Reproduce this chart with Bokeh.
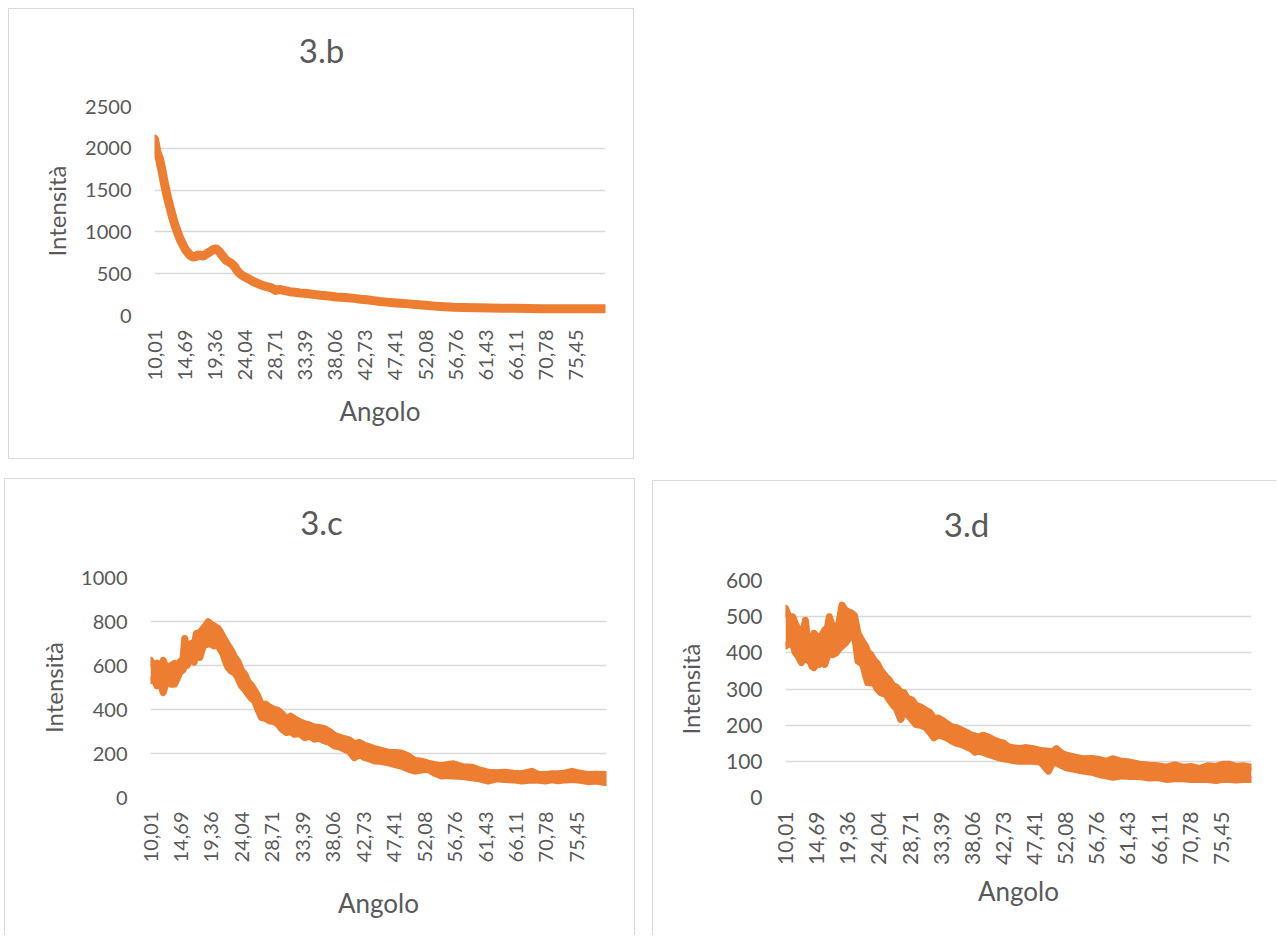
from bokeh.plotting import figure
from bokeh.layouts import row, column
from bokeh.models import Spacer, Range1d, FixedTicker, CustomJSTickFormatter, Label
from bokeh.embed import file_html
from bokeh.resources import INLINE

ORANGE = "#ED7D31"
GRID = "#D9D9D9"
TEXT = "#595959"
FONT = "Lato"

# x tick labels (category labels shown on the axis)
x_ticks = [10.01, 14.69, 19.36, 24.04, 28.71, 33.39, 38.06, 42.73,
           47.41, 52.08, 56.76, 61.43, 66.11, 70.78, 75.45]

# ---- 3.b : intensity ----
b_x = [10.01, 10.4, 10.8, 11.2, 11.6, 12.0, 12.4, 12.8, 13.2, 13.6, 14.0, 14.4,
       14.8, 15.2, 15.6, 16.0, 16.4, 16.8, 17.2, 17.6, 18.0, 18.4, 18.8, 19.2,
       19.6, 20.0, 20.4, 20.8, 21.2, 21.6, 22.0, 22.4, 22.8, 23.2, 23.6, 24.2,
       25.0, 25.8, 26.6, 27.4, 28.2, 28.8, 29.4, 30.2, 31.0, 31.8, 32.6, 33.4,
       34.2, 35.0, 35.8, 36.6, 37.4, 38.2, 39.0, 40.0, 41.0, 42.0, 43.0, 44.0,
       45.0, 46.0, 47.5, 49.0, 50.5, 52.0, 53.5, 55.0, 56.5, 58.0, 60.0, 62.0,
       64.0, 66.0, 68.0, 70.0, 72.0, 74.0, 76.0, 78.0, 80.0]
b_y = [2110, 1950, 1870, 1720, 1560, 1420, 1300, 1180, 1080, 990, 910, 850,
       790, 750, 715, 700, 705, 725, 718, 712, 732, 752, 772, 790,
       795, 770, 730, 690, 655, 640, 620, 590, 540, 505, 480, 455,
       420, 390, 365, 345, 330, 300, 312, 298, 285, 278, 270, 265,
       258, 250, 242, 236, 230, 222, 218, 212, 205, 195, 188, 178,
       168, 160, 150, 142, 132, 122, 112, 104, 98, 95, 92, 90,
       88, 86, 84, 82, 81, 81, 82, 81, 82]

# ---- 3.c : upper / lower envelope of the noisy signal ----
c_x = [10.01, 10.5, 11.0, 11.5, 11.96, 12.4, 12.7, 13.2, 13.7, 14.1, 14.5, 15.0,
       15.27, 15.6, 16.3, 16.7, 17.05, 17.6, 18.1, 18.86, 19.2, 19.6, 20.0, 20.4,
       20.8, 21.15, 21.5, 21.9, 22.4, 22.9, 23.4, 23.96, 24.5, 25.0, 25.5, 26.0,
       26.5, 27.05, 27.6, 28.3, 29.0, 29.6, 30.2, 30.9, 31.5, 32.1, 32.9, 33.7,
       34.4, 35.2, 35.9, 36.7, 37.5, 38.3, 39.0, 39.8, 40.5, 41.3, 42.1, 42.9,
       43.6, 44.4, 45.3, 46.5, 47.5, 48.5, 49.5, 50.6, 51.6, 52.6, 53.6, 54.7,
       55.6, 56.5, 57.9, 59.3, 60.5, 61.8, 63.1, 64.4, 65.7, 67.0, 68.5, 69.6,
       70.6, 71.6, 72.6, 73.7, 74.7, 76.0, 77.2, 78.5, 80.0]
c_upper = [624, 600, 610, 580, 624, 590, 594, 600, 609, 590, 616, 630,
           723, 660, 700, 690, 746, 750, 768, 799, 790, 783, 775, 768,
           750, 730, 712, 692, 670, 639, 620, 578, 560, 525, 510, 487,
           460, 419, 425, 411, 400, 396, 380, 358, 370, 358, 345, 335,
           330, 320, 318, 313, 300, 282, 275, 267, 262, 244, 250, 237,
           230, 222, 215, 206, 205, 202, 190, 168, 165, 156, 150, 145,
           150, 153, 140, 138, 125, 115, 112, 115, 110, 108, 119, 105,
           104, 108, 108, 112, 119, 110, 104, 106, 104]
c_lower = [531, 540, 508, 525, 477, 520, 538, 515, 515, 540, 568, 580,
           599, 600, 637, 615, 667, 637, 690, 697, 700, 690, 690, 690,
           670, 652, 620, 591, 575, 568, 545, 508, 490, 470, 450, 439,
           400, 363, 360, 348, 345, 333, 310, 295, 300, 287, 290, 272,
           280, 265, 270, 257, 250, 234, 230, 219, 210, 181, 195, 181,
           175, 166, 165, 158, 150, 143, 130, 120, 125, 128, 110, 98,
           100, 98, 95, 90, 85, 75, 85, 82, 80, 75, 80, 78,
           75, 80, 76, 80, 82, 78, 72, 75, 67]

# ---- 3.d : upper / lower envelope of the noisy signal ----
d_x = [10.01, 10.5, 11.1, 11.5, 11.9, 12.4, 13.0, 13.3, 13.6, 14.0, 14.3, 14.7,
       15.1, 15.5, 15.9, 16.3, 16.6, 17.1, 17.6, 18.0, 18.5, 18.9, 19.4, 19.9,
       20.35, 20.9, 21.3, 21.6, 22.0, 22.35, 22.8, 23.3, 23.8, 24.3, 25.1, 25.6,
       26.1, 26.7, 27.3, 27.8, 28.3, 29.0, 29.6, 30.3, 31.1, 31.7, 32.3, 32.9,
       33.5, 34.2, 35.0, 35.7, 36.5, 37.2, 38.0, 38.5, 39.0, 39.7, 40.5, 41.2,
       42.0, 42.8, 43.5, 44.2, 45.0, 46.0, 47.2, 48.3, 49.5, 50.1, 50.7, 51.5,
       52.2, 53.4, 54.7, 56.0, 57.2, 58.2, 59.2, 60.5, 61.7, 63.2, 64.7, 65.9,
       67.2, 68.5, 69.7, 70.9, 72.2, 73.4, 74.7, 75.7, 76.7, 77.7, 78.7, 80.0]
d_upper = [523, 500, 500, 480, 467, 431, 490, 440, 421, 440, 454, 445,
           440, 450, 463, 470, 500, 470, 472, 480, 532, 520, 514, 510,
           504, 454, 440, 431, 420, 403, 395, 380, 370, 352, 334, 325,
           310, 305, 292, 290, 274, 270, 255, 250, 241, 235, 218, 220,
           214, 205, 195, 193, 186, 180, 172, 170, 167, 172, 167, 160,
           154, 150, 140, 138, 135, 138, 135, 130, 128, 125, 135, 122,
           117, 112, 107, 108, 105, 100, 107, 100, 98, 92, 89, 88,
           84, 90, 84, 86, 80, 88, 86, 92, 92, 86, 88, 84]
d_lower = [419, 425, 423, 400, 391, 373, 396, 380, 382, 362, 359, 370,
           368, 375, 368, 390, 405, 395, 400, 410, 419, 425, 437, 445,
           451, 377, 372, 368, 340, 317, 318, 317, 300, 290, 285, 270,
           257, 245, 216, 235, 230, 215, 202, 200, 193, 180, 165, 172,
           170, 165, 156, 150, 146, 140, 133, 125, 128, 125, 119, 115,
           110, 107, 105, 102, 100, 100, 100, 98, 73, 95, 96, 88,
           82, 78, 73, 70, 63, 60, 56, 60, 58, 58, 54, 55,
           50, 52, 52, 50, 50, 50, 47, 50, 50, 48, 50, 50]

BORDER = "1px solid #D9D9D9"
TITLE_H = 70


def css(sides):
    return {"border-" + s: BORDER for s in sides}


def title_fig(text, w, cx, baseline, sides):
    t = figure(width=w, height=TITLE_H, x_range=Range1d(0, w),
               y_range=Range1d(0, TITLE_H), output_backend="svg",
               toolbar_location=None, x_axis_type=None, y_axis_type=None,
               min_border_left=0, min_border_right=0, min_border_top=0,
               min_border_bottom=0, frame_align=False,
               background_fill_color="white", border_fill_color="white",
               styles=css(sides))
    t.outline_line_color = None
    t.xgrid.visible = False
    t.ygrid.visible = False
    t.add_layout(Label(x=cx, y=TITLE_H - baseline + 15, x_units="screen",
                       y_units="screen", text=text, text_align="center",
                       text_baseline="alphabetic", text_font=FONT,
                       text_font_size="33px", text_color=TEXT))
    return t


def make_fig(w, h, left, right, top, bottom, y_end, y_step,
             ylab_standoff, xlab_standoff, tick_size, sides):
    p = figure(width=w, height=h - TITLE_H, x_range=Range1d(10.01, 80.0),
               y_range=Range1d(0, y_end), output_backend="svg",
               toolbar_location=None, min_border_left=left,
               min_border_right=right, min_border_top=top - TITLE_H,
               min_border_bottom=bottom, frame_align=False,
               background_fill_color="white", border_fill_color="white",
               styles=css(sides))
    p.outline_line_color = None

    p.xgrid.grid_line_color = None
    p.ygrid.grid_line_color = GRID
    p.ygrid.grid_line_width = 1.5

    for ax in (p.xaxis[0], p.yaxis[0]):
        ax.axis_line_color = None
        ax.major_tick_line_color = None
        ax.minor_tick_line_color = None
        ax.major_tick_in = 0
        ax.major_tick_out = 0
        ax.major_label_text_font = FONT
        ax.major_label_text_font_size = tick_size
        ax.major_label_text_color = TEXT
        ax.axis_label_text_font = FONT
        ax.axis_label_text_font_style = "normal"
        ax.axis_label_text_color = TEXT

    p.yaxis.ticker = FixedTicker(ticks=list(range(0, y_end + 1, y_step)))
    p.yaxis.major_label_standoff = 23
    p.yaxis.axis_label = "Intensità"
    p.yaxis.axis_label_text_font_size = "24px"
    p.yaxis.axis_label_standoff = ylab_standoff

    p.xaxis.ticker = FixedTicker(ticks=x_ticks)
    p.xaxis.formatter = CustomJSTickFormatter(
        code="return tick.toFixed(2).replace('.', ',');")
    p.xaxis.major_label_orientation = 1.5707963
    p.xaxis.major_label_standoff = 14
    p.xaxis.axis_label = "Angolo"
    p.xaxis.axis_label_text_font_size = "26px"
    p.xaxis.axis_label_standoff = xlab_standoff
    return p


# 3.b
tb = title_fig("3.b", 626, 312, 55, ["top", "left", "right"])
fb = make_fig(626, 451, 145, 30, 98, 144, 2500, 500, 11, 12, "20px",
              ["left", "right", "bottom"])
fb.line(b_x, b_y, line_color=ORANGE, line_width=9, line_join="round",
        line_cap="round")

# 3.c
tc = title_fig("3.c", 631, 316, 57, ["top", "left", "right"])
fc = make_fig(631, 457, 145, 30, 99, 138, 1000, 200, 10, 22, "20px",
              ["left", "right"])
fc.varea(x=c_x, y1=c_lower, y2=c_upper, fill_color=ORANGE)
fc.line(c_x, c_upper, line_color=ORANGE, line_width=7, line_join="round",
        line_cap="round")
fc.line(c_x, c_lower, line_color=ORANGE, line_width=7, line_join="round",
        line_cap="round")

# 3.d
td = title_fig("3.d", 624, 313, 57, ["top", "left"])
fd = make_fig(624, 455, 132, 26, 100, 138, 600, 100, 18, 7, "21px",
              ["left"])
fd.varea(x=d_x, y1=d_lower, y2=d_upper, fill_color=ORANGE)
fd.line(d_x, d_upper, line_color=ORANGE, line_width=7, line_join="round",
        line_cap="round")
fd.line(d_x, d_lower, line_color=ORANGE, line_width=7, line_join="round",
        line_cap="round")

layout = column(
    Spacer(height=8),
    row(Spacer(width=8), column(tb, fb)),
    Spacer(height=19),
    row(Spacer(width=4), column(tc, fc), Spacer(width=17),
        column(Spacer(height=2), td, fd)),
)

open("out.html", "w").write(file_html(layout, INLINE))
